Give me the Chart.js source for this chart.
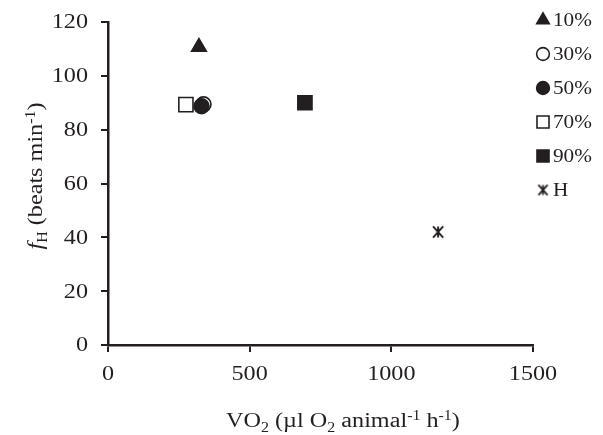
<!DOCTYPE html>
<html>
<head>
<meta charset="utf-8">
<script src="https://cdn.jsdelivr.net/npm/chart.js@4"></script>
<style>
  html, body { margin: 0; padding: 0; background: #fff; }
  #wrap { width: 603px; height: 435px; }
</style>
</head>
<body>
<div id="wrap"><canvas id="scatter" width="603" height="435"></canvas></div>
<script>
// values
const seriesLabels = ['10%', '30%', '50%', '70%', '90%', 'H'];
const vo2 = [321, 337, 330, 275, 695, 1165];
const heartRate = [110.7, 89.4, 88.7, 89.3, 90, 42];
const pointStyles = ['triangle', 'circle', 'circle', 'rect', 'rect', 'asterisk'];
const filled = [true, false, true, false, true, true];
const xTicks = [0, 500, 1000, 1500];
const yTicks = [0, 20, 40, 60, 80, 100, 120];

const ink = '#231f20';
const serif = '"Liberation Serif", "Times New Roman", serif';
const SX = 1.18; // the figure's text is a bit wider than Liberation Serif

// the H marker looks like a vertical bar crossed by an X
function makeAsterisk(size, lw) {
  const c = document.createElement('canvas');
  c.width = size; c.height = size;
  const g = c.getContext('2d');
  const m = lw / 2 + 0.5, e = size - m;
  g.strokeStyle = ink;
  g.lineWidth = lw;
  g.beginPath();
  g.moveTo(size / 2, m); g.lineTo(size / 2, e);
  g.moveTo(m + 0.5, m); g.lineTo(e - 0.5, e);
  g.moveTo(e - 0.5, m); g.lineTo(m + 0.5, e);
  g.stroke();
  return c;
}
const asteriskBig = makeAsterisk(14, 1.9);
const asteriskSmall = makeAsterisk(13, 1.8);

const radii = { triangle: 8.5, circle: 7.5, rect: 10, asterisk: 7 };

const datasets = seriesLabels.map((lab, i) => ({
  label: lab,
  data: [{ x: vo2[i], y: heartRate[i] }],
  pointStyle: pointStyles[i] === 'asterisk' ? asteriskBig : pointStyles[i],
  pointRadius: radii[pointStyles[i]],
  pointHoverRadius: radii[pointStyles[i]],
  backgroundColor: filled[i] ? ink : '#fff',
  borderColor: ink,
  borderWidth: 1.6,
  order: i === 2 ? 0 : i + 1
}));

function stretched(ctx, x, y, fn) {
  ctx.save();
  ctx.translate(x, y);
  ctx.scale(SX, 1);
  fn();
  ctx.restore();
}

// rich text helper for sub/superscripts, centred on (0,0) baseline
function drawRich(ctx, parts, size) {
  const fontFor = p => (p.italic ? 'italic ' : '') + (p.sub || p.sup ? size * 0.66 : size) + 'px ' + serif;
  let total = 0;
  parts.forEach(p => { ctx.font = fontFor(p); total += ctx.measureText(p.t).width; });
  let x = -total / 2;
  ctx.textBaseline = 'alphabetic';
  ctx.textAlign = 'left';
  parts.forEach(p => {
    ctx.font = fontFor(p);
    let dy = 0;
    if (p.sub) dy = size * 0.25;
    if (p.sup) dy = -size * 0.36;
    ctx.fillText(p.t, x, dy);
    x += ctx.measureText(p.t).width;
  });
}

const textLayer = {
  id: 'textLayer',
  afterDraw(chart) {
    const ctx = chart.ctx;
    const xs = chart.scales.x, ys = chart.scales.y;
    ctx.save();
    ctx.fillStyle = ink;

    // tick labels
    ctx.font = '20.5px ' + serif;
    ctx.textBaseline = 'middle';
    ctx.textAlign = 'right';
    yTicks.forEach(v => {
      stretched(ctx, 88, ys.getPixelForValue(v) + 1, () => ctx.fillText(String(v), 0, 0));
    });
    ctx.textBaseline = 'alphabetic';
    ctx.textAlign = 'center';
    xTicks.forEach(v => {
      stretched(ctx, xs.getPixelForValue(v), 380, () => ctx.fillText(String(v), 0, 0));
    });

    // x title
    stretched(ctx, 343, 427, () => drawRich(ctx, [
      { t: 'VO' }, { t: '2', sub: true }, { t: ' (µl O' }, { t: '2', sub: true },
      { t: ' animal' }, { t: '-1', sup: true }, { t: ' h' }, { t: '-1', sup: true }, { t: ')' }
    ], 20.5));

    // y title
    ctx.save();
    ctx.translate(42, 176);
    ctx.rotate(-Math.PI / 2);
    ctx.scale(SX, 1);
    drawRich(ctx, [
      { t: 'f', italic: true }, { t: 'H', sub: true }, { t: ' (beats min' }, { t: '-1', sup: true }, { t: ')' }
    ], 20.5);
    ctx.restore();

    // legend column
    const rowY = [20, 54, 88, 122, 156, 190];
    chart.data.datasets.forEach((ds, i) => {
      ctx.fillStyle = ds.backgroundColor;
      ctx.strokeStyle = ds.borderColor;
      ctx.lineWidth = ds.borderWidth;
      const style = pointStyles[i] === 'asterisk' ? asteriskSmall : ds.pointStyle;
      Chart.helpers.drawPoint(ctx, {
        pointStyle: style,
        radius: ds.pointRadius * 0.85,
        borderWidth: ds.borderWidth
      }, 543, rowY[i]);
      ctx.fillStyle = ink;
      ctx.font = '18px ' + serif;
      ctx.textAlign = 'left';
      ctx.textBaseline = 'middle';
      stretched(ctx, 553, rowY[i] + 1, () => ctx.fillText(ds.label, 0, 0));
    });
    ctx.restore();
  }
};

new Chart(document.getElementById('scatter').getContext('2d'), {
  type: 'scatter',
  data: { datasets: datasets },
  options: {
    responsive: false,
    animation: false,
    layout: { padding: { top: 22, right: 70, left: 0, bottom: 0 } },
    plugins: {
      legend: { display: false },
      tooltip: { enabled: false }
    },
    scales: {
      x: {
        type: 'linear',
        min: 0,
        max: 1500,
        afterBuildTicks: axis => { axis.ticks = xTicks.map(v => ({ value: v })); },
        afterFit: axis => { axis.height = 90; },
        border: { display: true, color: ink, width: 2.5 },
        grid: { drawOnChartArea: false, drawTicks: true, tickLength: 7, color: ink, lineWidth: 2 },
        ticks: { color: 'rgba(0,0,0,0)', font: { family: serif, size: 20 }, padding: 8, maxRotation: 0 }
      },
      y: {
        type: 'linear',
        min: 0,
        max: 120,
        afterBuildTicks: axis => { axis.ticks = yTicks.map(v => ({ value: v })); },
        afterFit: axis => { axis.width = 108; },
        border: { display: true, color: ink, width: 2.5 },
        grid: { drawOnChartArea: false, drawTicks: true, tickLength: 7, color: ink, lineWidth: 2 },
        ticks: { color: 'rgba(0,0,0,0)', font: { family: serif, size: 20 }, padding: 4 }
      }
    }
  },
  plugins: [textLayer]
});
</script>
</body>
</html>
